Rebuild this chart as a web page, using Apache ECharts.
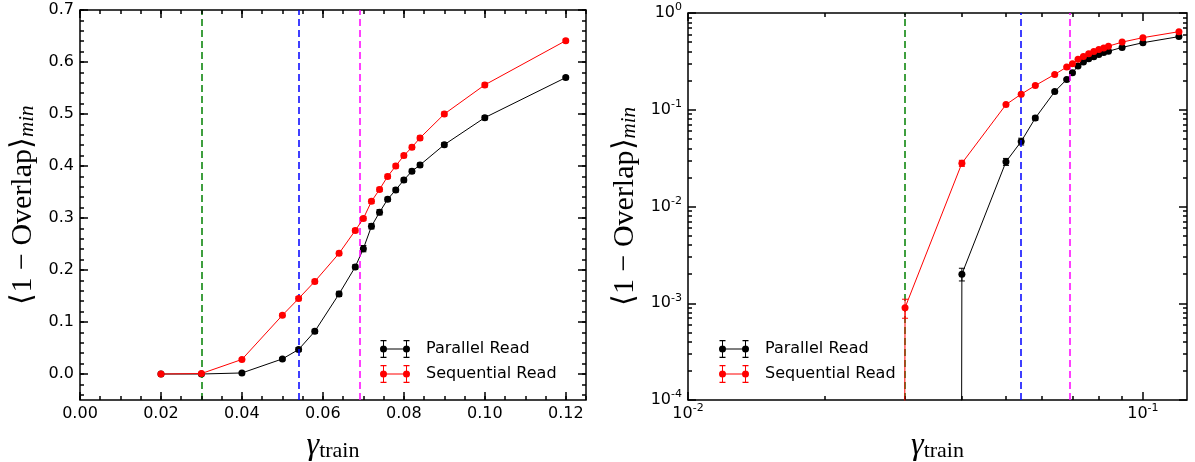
<!DOCTYPE html>
<html><head><meta charset="utf-8">
<script src="https://cdn.jsdelivr.net/npm/echarts@6/dist/echarts.min.js"></script>
<style>html,body{margin:0;padding:0;background:#fff}#c{width:1195px;height:462px}</style>
</head><body><div id="c"></div>
<script>
// ---- data ----
const gamma = [0.02, 0.03, 0.04, 0.05, 0.054, 0.058, 0.064, 0.068, 0.07, 0.072, 0.074, 0.076, 0.078, 0.08, 0.082, 0.084, 0.09, 0.10, 0.12];
const parallelRead = [0, 0, 0.002, 0.029, 0.047, 0.082, 0.154, 0.206, 0.241, 0.284, 0.311, 0.336, 0.354, 0.373, 0.390, 0.402, 0.441, 0.493, 0.570];
const parallelErr = [0, 0, 0.0003, 0.0024, 0.0038, 0.004, 0.005, 0.004, 0.006, 0.005, 0.005, 0.004, 0.004, 0.004, 0.004, 0.004, 0.004, 0.004, 0.003];
const sequentialRead = [0, 0.0009, 0.028, 0.113, 0.145, 0.178, 0.232, 0.276, 0.299, 0.332, 0.355, 0.380, 0.400, 0.420, 0.436, 0.454, 0.500, 0.556, 0.641];
const sequentialErr = [0, 0.0002, 0.002, 0.003, 0.004, 0.004, 0.004, 0.004, 0.004, 0.004, 0.004, 0.004, 0.004, 0.004, 0.004, 0.004, 0.004, 0.004, 0.003];
const thresholds = [0.03, 0.054, 0.069];
const thresholdColors = ['#008000', '#0000ff', '#ff00ff'];
const seriesNames = ['Parallel Read', 'Sequential Read'];
const seriesColors = ['#000000', '#ff0000'];
// tick labels
const linXTicks = [0.00, 0.02, 0.04, 0.06, 0.08, 0.10, 0.12];
const linYTicks = [0.0, 0.1, 0.2, 0.3, 0.4, 0.5, 0.6, 0.7];
const logXTicks = [0.01, 0.1];
const logYTicks = [1e-4, 1e-3, 1e-2, 1e-1, 1];
// axis extents
const linXRange = [0, 0.125], linYRange = [-0.05, 0.7];
const logXRange = [0.01, 0.125], logYRange = [1e-4, 1];
// layout
const gridBoxes = [
  { left: 80, top: 10, width: 506, height: 390 },
  { left: 688, top: 13, width: 499, height: 387 }
];

// ---- helpers ----
const near = (arr, v, tol) => arr.some(t => Math.abs(t - v) < tol);
function range(a, b, step) { const r = []; for (let v = a; v <= b + step * 1e-6; v += step) r.push(+v.toFixed(6)); return r; }
function logMinor(e0, e1, lo, hi) { const r = []; for (let e = e0; e <= e1; e++) for (let k = 2; k <= 9; k++) { const v = k * Math.pow(10, e); if (v >= lo && v <= hi) r.push(v); } return r; }

const tickSets = [
  { log: false, xR: linXRange, yR: linYRange, xMaj: linXTicks, xMin: range(0, 0.125, 0.005), yMaj: linYTicks, yMin: range(-0.04, 0.7, 0.02) },
  { log: true, xR: logXRange, yR: logYRange, xMaj: logXTicks, xMin: logMinor(-2, -1, 0.01, 0.125), yMaj: logYTicks, yMin: logMinor(-4, -1, 1e-4, 1) }
];

// matplotlib-style inward ticks on all four sides, as solid markLine segments in axis units
function tickPairs(gi) {
  const t = tickSets[gi], g = gridBoxes[gi];
  const shift = (v, px, r, size) => t.log ? v * Math.pow(10, px * Math.log10(r[1] / r[0]) / size) : v + px * (r[1] - r[0]) / size;
  const xs = (v, px) => shift(v, px, t.xR, g.width);
  const ys = (v, px) => shift(v, px, t.yR, g.height);
  const out = [];
  const xt = (v, len) => {
    out.push([{ coord: [v, t.yR[0]] }, { coord: [v, ys(t.yR[0], len)] }]);
    out.push([{ coord: [v, t.yR[1]] }, { coord: [v, ys(t.yR[1], -len)] }]);
  };
  const yt = (v, len) => {
    out.push([{ coord: [t.xR[0], v] }, { coord: [xs(t.xR[0], len), v] }]);
    out.push([{ coord: [t.xR[1], v] }, { coord: [xs(t.xR[1], -len), v] }]);
  };
  t.xMin.forEach(v => xt(v, 4));
  t.xMaj.forEach(v => xt(v, 8));
  t.yMin.forEach(v => yt(v, 4));
  t.yMaj.forEach(v => yt(v, 8));
  return out;
}

function errRenderer(color) {
  return function (params, api) {
    const x = api.value(0), v = api.value(1), e = api.value(2);
    if (!(e > 0) || !(v > 0)) return null;
    const lo = Math.max(v - e, 1e-300);
    const p1 = api.coord([x, lo]), p2 = api.coord([x, v + e]);
    const st = { stroke: color, lineWidth: 1 };
    return { type: 'group', children: [
      { type: 'line', shape: { x1: p1[0], y1: p1[1], x2: p2[0], y2: p2[1] }, style: st },
      { type: 'line', shape: { x1: p1[0] - 3, y1: p1[1], x2: p1[0] + 3, y2: p1[1] }, style: st },
      { type: 'line', shape: { x1: p2[0] - 3, y1: p2[1], x2: p2[0] + 3, y2: p2[1] }, style: st }
    ] };
  };
}
// errorbar legend icon (30 x 18)
const errIcon = 'path://M3.5 8.5h23v1h-23z M3 0h1v18h-1z M26 0h1v18h-1z M0.5 0h6v1.3h-6z M0.5 16.7h6v1.3h-6z M23.5 0h6v1.3h-6z M23.5 16.7h6v1.3h-6z M0 9a3.5 3.5 0 1 1 7 0a3.5 3.5 0 1 1 -7 0z M23 9a3.5 3.5 0 1 1 7 0a3.5 3.5 0 1 1 -7 0z';

const tickFont = { fontFamily: 'DejaVu Sans', fontSize: 16, color: '#000' };
const supRich = {
  b: { fontFamily: 'DejaVu Sans', fontSize: 16, color: '#000', lineHeight: 16, verticalAlign: 'bottom' },
  s: { fontFamily: 'DejaVu Sans', fontSize: 11, color: '#000', lineHeight: 11, verticalAlign: 'bottom', padding: [0, 0, 8, 0] }
};
const logFmt = v => { const e = Math.log10(v), r = Math.round(e); return Math.abs(e - r) > 1e-6 ? '' : '{b|10}{s|' + r + '}'; };
const yName = '{a|⟨1 − Overlap⟩}{b|min}';
const yNameStyle = { rich: {
  a: { fontFamily: 'Liberation Serif', fontSize: 30, color: '#000', lineHeight: 32, verticalAlign: 'bottom' },
  b: { fontFamily: 'Liberation Serif', fontSize: 21, fontStyle: 'italic', color: '#000', lineHeight: 21, verticalAlign: 'bottom', padding: [6, 0, 0, 0] }
} };
const xName = '{g|γ}{t|train}';
const xNameStyle = { rich: {
  g: { fontFamily: 'Liberation Serif', fontSize: 32, fontStyle: 'italic', color: '#000', lineHeight: 32, verticalAlign: 'bottom' },
  t: { fontFamily: 'Liberation Serif', fontSize: 22, color: '#000', lineHeight: 22, verticalAlign: 'bottom', padding: [8, 0, 0, 0] }
} };

const logSafe = v => v > 0 ? v : 1e-300; // matplotlib-like clipping of non-positive values on log axes

function buildSeries(gi, isLog) {
  const out = [];
  out.push({ type: 'line', xAxisIndex: gi, yAxisIndex: gi, data: [], silent: true, z: 1,
    markLine: { symbol: ['none', 'none'], silent: true, animation: false, precision: 10, label: { show: false },
      data: thresholds.map((t, i) => ({ xAxis: t, lineStyle: { color: thresholdColors[i], type: [7, 4], width: 1.5 } })) } });
  out.push({ type: 'line', xAxisIndex: gi, yAxisIndex: gi, data: [], silent: true, z: 2, clip: false,
    markLine: { symbol: ['none', 'none'], silent: true, animation: false, precision: 10, label: { show: false },
      lineStyle: { color: '#000', type: 'solid', width: 1.5 },
      emphasis: { disabled: true },
      data: tickPairs(gi) } });
  const vals = [parallelRead, sequentialRead], errs = [parallelErr, sequentialErr];
  for (let s = 0; s < 2; s++) {
    out.push({ type: 'custom', xAxisIndex: gi, yAxisIndex: gi, silent: true, z: 3 + s * 2,
      renderItem: errRenderer(seriesColors[s]),
      data: gamma.map((x, i) => [x, vals[s][i], errs[s][i]]) });
    out.push({ type: 'line', name: seriesNames[s], xAxisIndex: gi, yAxisIndex: gi, z: 4 + s * 2, symbol: 'circle', symbolSize: 7, clip: true,
      itemStyle: { color: seriesColors[s] }, lineStyle: { color: seriesColors[s], width: 1 },
      data: gamma.map((x, i) => [x, isLog ? logSafe(vals[s][i]) : vals[s][i]]) });
  }
  return out;
}

const legendBase = {
  top: 335, orient: 'vertical', itemWidth: 30, itemHeight: 18, itemGap: 7, selectedMode: false,
  data: seriesNames.map(n => ({ name: n, icon: errIcon })),
  formatter: n => '{t|' + n + '}',
  textStyle: { rich: { t: { fontFamily: 'DejaVu Sans', fontSize: 16, color: '#000', padding: [0, 0, 0, 11] } } }
};

const chart = echarts.init(document.getElementById('c'));
chart.setOption({
  animation: false,
  backgroundColor: '#fff',
  grid: gridBoxes.map(g => Object.assign({ show: true, borderColor: '#000', borderWidth: 1.5, outerBoundsMode: 'none' }, g)),
  xAxis: [
    { type: 'value', gridIndex: 0, min: linXRange[0], max: linXRange[1], interval: 0.02,
      axisLine: { show: false }, axisTick: { show: false }, splitLine: { show: false },
      axisLabel: Object.assign({ margin: 6, showMaxLabel: false, formatter: v => near(linXTicks, v, 1e-6) ? v.toFixed(2) : '' }, tickFont),
      name: xName, nameLocation: 'middle', nameGap: 30, nameTextStyle: xNameStyle },
    { type: 'log', gridIndex: 1, min: logXRange[0], max: logXRange[1],
      axisLine: { show: false }, axisTick: { show: false }, splitLine: { show: false },
      axisLabel: { margin: 6, showMaxLabel: false, formatter: logFmt, rich: supRich },
      name: xName, nameLocation: 'middle', nameGap: 30, nameTextStyle: xNameStyle }
  ],
  yAxis: [
    { type: 'value', gridIndex: 0, min: linYRange[0], max: linYRange[1], interval: 0.05,
      axisLine: { show: false }, axisTick: { show: false }, splitLine: { show: false },
      axisLabel: Object.assign({ margin: 6, formatter: v => near(linYTicks, v, 1e-6) ? v.toFixed(1) : '' }, tickFont),
      name: yName, nameLocation: 'middle', nameGap: 42, nameTextStyle: yNameStyle },
    { type: 'log', gridIndex: 1, min: logYRange[0], max: logYRange[1],
      axisLine: { show: false }, axisTick: { show: false }, splitLine: { show: false },
      axisLabel: { margin: 6, formatter: logFmt, rich: supRich },
      name: yName, nameLocation: 'middle', nameGap: 48, nameTextStyle: yNameStyle }
  ],
  legend: [
    Object.assign({ left: 375 }, legendBase),
    Object.assign({ left: 714 }, legendBase)
  ],
  series: [
    ...buildSeries(0, false),
    ...buildSeries(1, true)
  ]
});
</script></body></html>
